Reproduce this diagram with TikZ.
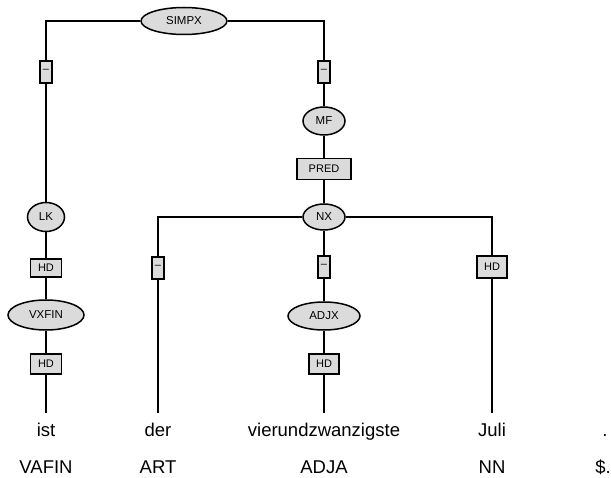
\documentclass[tikz,border=0pt]{standalone}
\usepackage{fontspec}
\setmainfont{Liberation Sans}
\usetikzlibrary{shapes.geometric}
\begin{document}
\begin{tikzpicture}[x=1pt,y=-1pt,
  cat/.style={ellipse, draw, line width=1.5pt, fill=gray!28, inner sep=0pt, font=\fontsize{11.5}{12}\selectfont},
  edgebox/.style={rectangle, draw, line width=1.7pt, fill=gray!28, inner sep=0pt, font=\fontsize{11}{12}\selectfont},
  conn/.style={line width=1.3pt},
  word/.style={font=\fontsize{18.5}{22}\selectfont, inner sep=0pt, anchor=base}]
\useasboundingbox (0,0) rectangle (611,478);
\coordinate (e1) at (46,413);
\coordinate (e2) at (158,413);
\coordinate (e3) at (324,413);
\coordinate (e4) at (492,413);
% nodes
\node[cat, minimum width=86pt, minimum height=27pt] (simpx) at (184,21) {SIMPX};
\node[edgebox, minimum width=12pt, minimum height=22pt] (b1) at (46,72) {\raisebox{0.3ex}{–}};
\node[edgebox, minimum width=12pt, minimum height=22pt] (b2) at (324,72) {\raisebox{0.3ex}{–}};
\node[cat, minimum width=42pt, minimum height=28pt] (mf) at (324,121) {MF};
\node[edgebox, minimum width=54pt, minimum height=21pt] (pred) at (324,169) {PRED};
\node[cat, minimum width=42pt, minimum height=26pt] (nx) at (324,217) {NX};
\node[cat, minimum width=37pt, minimum height=29pt] (lk) at (46,217) {LK};
\node[edgebox, minimum width=31pt, minimum height=18pt] (b3) at (46,268) {HD};
\node[cat, minimum width=76pt, minimum height=30pt] (vxfin) at (46,315) {VXFIN};
\node[edgebox, minimum width=31pt, minimum height=20pt] (b4) at (46,364) {HD};
\node[edgebox, minimum width=12pt, minimum height=22pt] (b5) at (158,268) {\raisebox{0.3ex}{–}};
\node[edgebox, minimum width=12pt, minimum height=22pt] (b6) at (324,267) {\raisebox{0.3ex}{–}};
\node[cat, minimum width=72pt, minimum height=28pt] (adjx) at (324,316) {ADJX};
\node[edgebox, minimum width=30pt, minimum height=20pt] (b7) at (324,364) {HD};
\node[edgebox, minimum width=30pt, minimum height=22pt] (b8) at (492,267) {HD};
% words and tags
\node[word] (w1) at (46,437) {ist};
\node[word] (w2) at (158,437) {der};
\node[word] (w3) at (324,437) {vierundzwanzigste};
\node[word] (w4) at (492,437) {Juli};
\node[word] (w5) at (605,437) {.};
\node[word] (t1) at (46,474) {VAFIN};
\node[word] (t2) at (158,474) {ART};
\node[word] (t3) at (324,474) {ADJA};
\node[word] (t4) at (492,474) {NN};
\node[word] (t5) at (603,474) {\$.};
% connectors
\draw[conn] (simpx.west) -| (b1.north);
\draw[conn] (b1) -- (lk);
\draw[conn] (simpx.east) -| (b2.north);
\draw[conn] (b2) -- (mf);
\draw[conn] (mf) -- (pred);
\draw[conn] (pred) -- (nx);
\draw[conn] (lk) -- (b3);
\draw[conn] (b3) -- (vxfin);
\draw[conn] (vxfin) -- (b4);
\draw[conn] (b4.south) -- (e1);
\draw[conn] (nx.west) -| (b5.north);
\draw[conn] (b5.south) -- (e2);
\draw[conn] (nx) -- (b6);
\draw[conn] (b6) -- (adjx);
\draw[conn] (adjx) -- (b7);
\draw[conn] (b7.south) -- (e3);
\draw[conn] (nx.east) -| (b8.north);
\draw[conn] (b8.south) -- (e4);
\end{tikzpicture}
\end{document}
